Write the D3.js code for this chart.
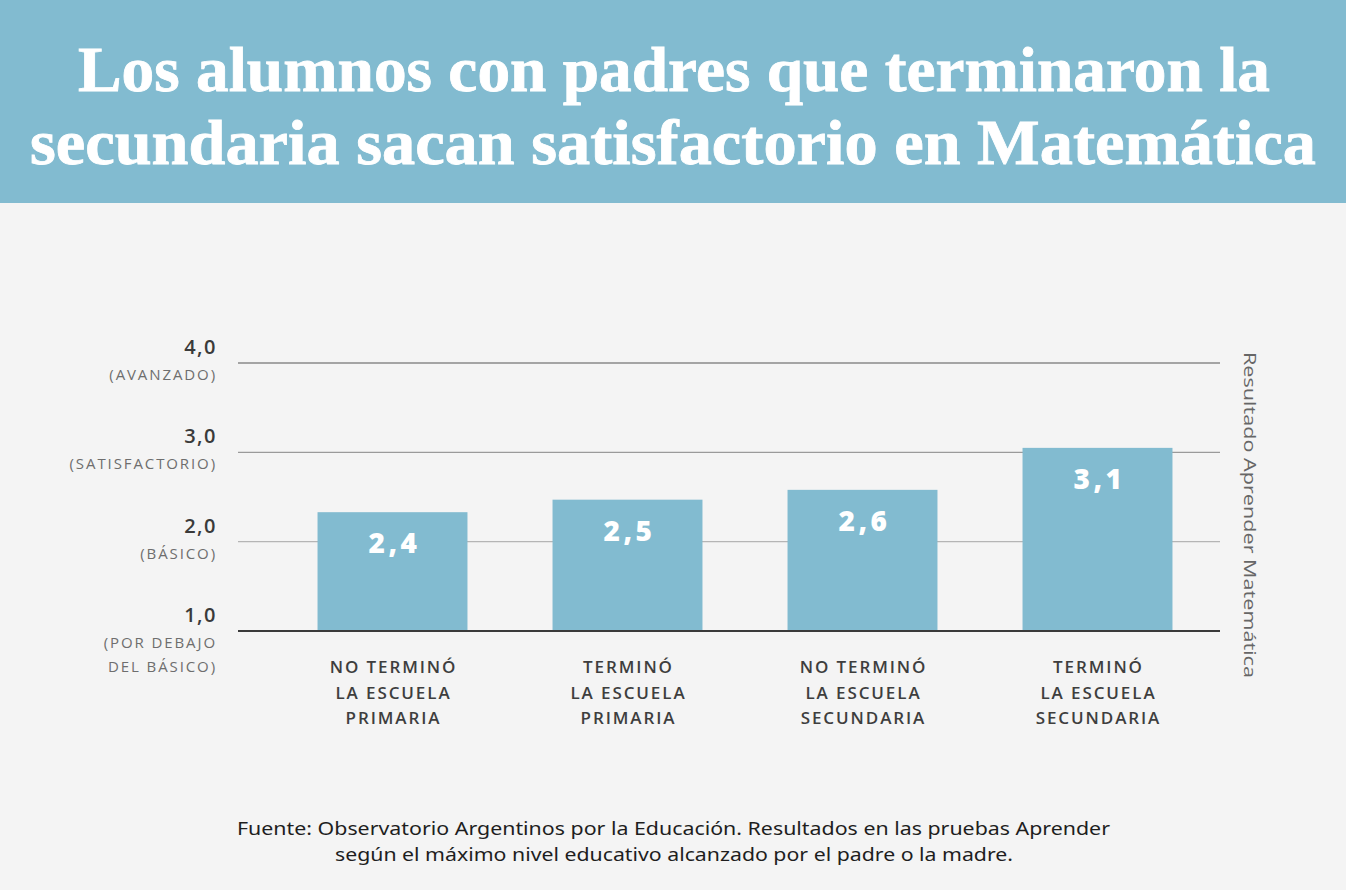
<!DOCTYPE html>
<html><head><meta charset="utf-8">
<script src="https://cdn.jsdelivr.net/npm/d3@7"></script>
<style>body{margin:0;background:#f4f4f4}svg{display:block}</style>
</head><body><svg id="c" width="1346" height="890"></svg>
<script>
const titleLines = ["Los alumnos con padres que terminaron la", "secundaria sacan satisfactorio en Matemática"];
const categories = [["NO TERMINÓ","LA ESCUELA","PRIMARIA"],["TERMINÓ","LA ESCUELA","PRIMARIA"],["NO TERMINÓ","LA ESCUELA","SECUNDARIA"],["TERMINÓ","LA ESCUELA","SECUNDARIA"]];
const values = [2.33, 2.47, 2.58, 3.05];
const valueLabels = ["2,4","2,5","2,6","3,1"];
const yTicks = [1,2,3,4];
const yTickLabels = ["1,0","2,0","3,0","4,0"];
const yTickSub = [["(POR DEBAJO","DEL BÁSICO)"],["(BÁSICO)"],["(SATISFACTORIO)"],["(AVANZADO)"]];
const axisTitle = "Resultado Aprender Matemática";
const footer = ["Fuente: Observatorio Argentinos por la Educación. Resultados en las pruebas Aprender","según el máximo nivel educativo alcanzado por el padre o la madre."];

const svg = d3.select("#c");
const blue = "#82bbd0";
svg.append("rect").attr("width",1346).attr("height",890).attr("fill","#f4f4f4");
svg.append("rect").attr("width",1346).attr("height",203).attr("fill",blue);

const tl = [{x0:78,x1:1270,y:91},{x0:30,x1:1316,y:164}];
titleLines.forEach((t,i)=>{
  svg.append("text").attr("x",tl[i].x0).attr("y",tl[i].y)
    .attr("font-family","'Liberation Serif', 'DejaVu Serif', serif").attr("font-weight","bold")
    .attr("font-size",64).attr("fill","#fff").attr("stroke","#fff").attr("stroke-width",0.8)
    .attr("textLength",tl[i].x1-tl[i].x0).attr("lengthAdjust","spacingAndGlyphs").text(t);
});

const y = d3.scaleLinear().domain([1,4]).range([631,363]);
const x = d3.scaleBand().domain(d3.range(categories.length)).range([275,1215]).paddingInner(0.362).paddingOuter(0.181);
const gx0 = 238, gx1 = 1220;

// gridlines
const gridColor = {1:"#444",2:"#b5b5b5",3:"#9a9a9a",4:"#555"};
svg.append("g").selectAll("line").data(yTicks.filter(d=>d!==1)).join("line")
  .attr("x1",gx0).attr("x2",gx1).attr("y1",d=>y(d)).attr("y2",d=>y(d))
  .attr("stroke",d=>gridColor[d]).attr("stroke-width",1.2);

// bars
svg.append("g").selectAll("rect").data(values).join("rect")
  .attr("x",(d,i)=>x(i)).attr("width",x.bandwidth())
  .attr("y",d=>y(d)).attr("height",d=>y(1)-y(d)).attr("fill",blue);

// baseline
svg.append("line").attr("x1",gx0).attr("x2",gx1).attr("y1",y(1)).attr("y2",y(1)).attr("stroke","#3a3a3a").attr("stroke-width",2.2);

// value labels
svg.append("g").selectAll("text").data(values).join("text")
  .attr("x",(d,i)=>x(i)+x.bandwidth()/2+2).attr("y",d=>y(d)+41)
  .attr("text-anchor","middle").attr("font-family","'Open Sans', sans-serif").attr("font-weight","800")
  .attr("font-size",28).attr("letter-spacing",3.5).attr("fill","#fff")
  .text((d,i)=>valueLabels[i]);

// y labels
const yl = svg.append("g").attr("font-family","'Open Sans', sans-serif");
yTicks.forEach((t,i)=>{
  yl.append("text").attr("x",217).attr("y",y(t)-9).attr("text-anchor","end")
    .attr("font-size",20).attr("font-weight","600").attr("fill","#3a3a3a").attr("letter-spacing",1.5).text(yTickLabels[i]);
  yTickSub[i].forEach((s,j)=>{
    yl.append("text").attr("x",217).attr("y",y(t)+17+j*24).attr("text-anchor","end")
      .attr("font-size",15).attr("fill","#6e6e6e").attr("letter-spacing",1.9).text(s);
  });
});

// x labels
const xl = svg.append("g").attr("font-family","'Open Sans', sans-serif");
categories.forEach((lines,i)=>{
  lines.forEach((s,j)=>{
    xl.append("text").attr("x",x(i)+x.bandwidth()/2+1).attr("y",673+j*25.5).attr("text-anchor","middle")
      .attr("font-size",17).attr("font-weight","600").attr("fill","#3e3e3e").attr("letter-spacing",1.9).text(s);
  });
});

// right axis title
svg.append("text").attr("transform","translate(1244,352) rotate(90)")
  .attr("font-family","'Open Sans', sans-serif").attr("font-size",17).attr("fill","#666")
  .attr("textLength",326).attr("lengthAdjust","spacingAndGlyphs").text(axisTitle);

// footer
const fw = [[237,1110],[335,1013]];
footer.forEach((s,i)=>{
  svg.append("text").attr("x",fw[i][0]).attr("y",835+i*26)
    .attr("font-family","'Noto Sans', sans-serif").attr("font-size",18).attr("fill","#1e1e1e")
    .attr("textLength",fw[i][1]-fw[i][0]).attr("lengthAdjust","spacingAndGlyphs").text(s);
});
</script></body></html>
